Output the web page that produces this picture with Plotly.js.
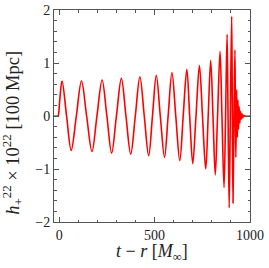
<!DOCTYPE html>
<html>
<head>
<meta charset="utf-8">
<script src="https://cdn.plot.ly/plotly-3.0.1.min.js"></script>
<style>html,body{margin:0;padding:0;background:#fff;}#plot{width:269px;height:268px;}</style>
</head>
<body>
<div id="plot"></div>
<script>
// Retarded time t - r [M_inf] (extrema and zero crossings)
var tVals = [-27, -8, -4, 3, 15, 39, 63, 90, 117, 144, 172, 198, 225, 250, 275, 300, 326, 350, 375, 399, 423, 446, 469, 489, 509, 530, 552, 571, 591, 611, 632, 650, 669, 684, 700, 717, 735, 751, 768, 781, 794, 806, 818, 830, 843, 853, 864, 872, 880, 885, 891, 897, 904, 907.5, 911, 916, 921, 923.5, 926, 930, 934, 937, 940, 943, 947, 950, 954, 958, 962, 967, 972, 1000];
// Strain h_+^22 x 10^22 [100 Mpc]
var hVals = [0, 0, 0.02, 0.3, 0.66, 0, -0.65, 0, 0.66, 0, -0.67, 0, 0.68, 0, -0.70, 0, 0.71, 0, -0.72, 0, 0.74, 0, -0.75, 0, 0.77, 0, -0.78, 0, 0.82, 0, -0.84, 0, 0.88, 0, -0.90, 0, 0.95, 0, -1.00, 0, 1.05, 0, -1.11, 0, 1.22, 0, -1.35, 0, 1.54, 0, -1.73, 0, 1.88, 0, -1.64, 0, 1.25, 0, -0.78, 0.5, -0.40, 0.30, -0.25, 0.18, -0.13, 0.09, -0.06, 0.04, -0.03, 0.015, 0, 0];
var xTicks = [0, 500, 1000];
var yTicks = [-2, -1, 0, 1, 2];
var yTickText = ['\u22122', '\u22121', '0', '1', '2'];

var serif = '"Liberation Serif", "DejaVu Serif", serif';

Plotly.newPlot('plot', [{
  x: tVals, y: hVals, type: 'scatter', mode: 'lines',
  line: {color: '#ff0000', width: 1.6, shape: 'spline', smoothing: 1},
  hoverinfo: 'skip'
}], {
  width: 269, height: 268,
  margin: {l: 54, r: 19, t: 10, b: 46},
  paper_bgcolor: '#fff', plot_bgcolor: '#fff',
  showlegend: false,
  font: {family: serif, color: '#222', size: 13},
  xaxis: {
    range: [-27, 1000], tickvals: xTicks, ticktext: xTicks.map(String),
    ticks: 'inside', ticklen: 5, tickcolor: '#555', tickwidth: 1,
    minor: {dtick: 100, tick0: 0, ticks: 'inside', ticklen: 2.5, tickcolor: '#555', showgrid: false},
    showline: true, linecolor: '#555', linewidth: 1, mirror: 'ticks',
    showgrid: false, zeroline: false,
    tickfont: {family: serif, size: 14, color: '#222'}
  },
  yaxis: {
    range: [-2, 2], tickvals: yTicks, ticktext: yTickText,
    ticks: 'inside', ticklen: 5, tickcolor: '#555', tickwidth: 1,
    minor: {dtick: 0.2, tick0: 0, ticks: 'inside', ticklen: 2.5, tickcolor: '#555', showgrid: false},
    showline: true, linecolor: '#555', linewidth: 1, mirror: 'ticks',
    showgrid: false, zeroline: false,
    tickfont: {family: serif, size: 14, color: '#222'}
  },
  annotations: [
    {xref: 'paper', yref: 'paper', x: 0.5, y: -0.145, xanchor: 'center', yanchor: 'middle', showarrow: false,
     text: '<i>t</i> \u2212 <i>r</i> [<i>M</i><sub>\u221e</sub>]', font: {family: serif, size: 18, color: '#222'}},
    {xref: 'paper', yref: 'paper', x: -0.21, y: 0.42, xanchor: 'center', yanchor: 'middle', showarrow: false, textangle: -90,
     text: '<i>h</i><sub>+</sub><sup>22</sup> \u00d7 10<sup>22</sup> [100 Mpc]', font: {family: serif, size: 18.5, color: '#222'}}
  ]
}, {staticPlot: true, displayModeBar: false});
</script>
</body>
</html>
